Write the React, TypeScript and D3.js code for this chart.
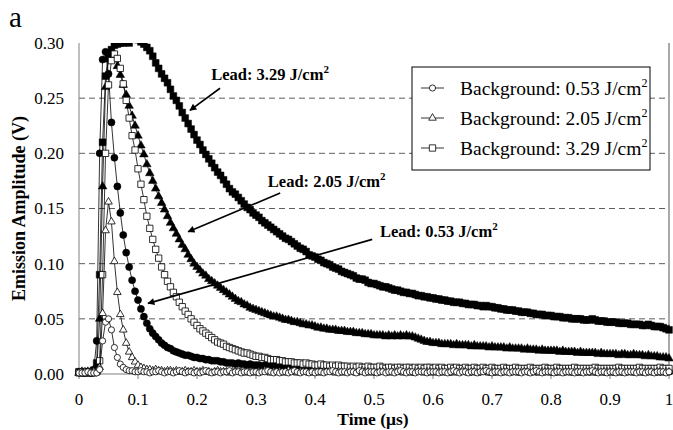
import React from "react";
import * as d3 from "d3";

// sampling grid of the scope trace, 0.005 µs per point
const timeUs = d3.range(201).map(i => +(i * 0.005).toFixed(3));

const lead329 = [
  0.002,0.001,0.002,0.002,0.001,0.003,0.010,0.090,0.210,0.270,0.289,0.294,0.298,0.299,0.300,0.300,0.301,0.300,0.304,0.306,
  0.303,0.301,0.299,0.296,0.293,0.288,0.282,0.277,0.272,0.268,0.264,0.258,0.252,0.248,0.243,0.237,0.232,0.227,0.222,0.217,
  0.212,0.208,0.203,0.199,0.195,0.191,0.187,0.183,0.180,0.176,0.172,0.168,0.165,0.163,0.160,0.157,0.154,0.151,0.149,0.146,
  0.144,0.142,0.139,0.137,0.135,0.133,0.131,0.129,0.127,0.125,0.123,0.122,0.120,0.118,0.116,0.114,0.113,0.111,0.108,0.107,
  0.106,0.104,0.103,0.101,0.100,0.099,0.097,0.096,0.095,0.093,0.092,0.091,0.090,0.089,0.087,0.086,0.086,0.085,0.083,0.082,
  0.082,0.081,0.080,0.079,0.079,0.078,0.077,0.076,0.076,0.075,0.074,0.074,0.073,0.073,0.072,0.071,0.071,0.070,0.070,0.069,
  0.069,0.068,0.068,0.067,0.067,0.066,0.066,0.065,0.065,0.065,0.064,0.064,0.063,0.063,0.063,0.062,0.062,0.061,0.062,0.061,
  0.061,0.060,0.060,0.059,0.059,0.058,0.058,0.058,0.057,0.057,0.056,0.056,0.056,0.055,0.055,0.054,0.054,0.054,0.053,0.053,
  0.053,0.052,0.052,0.052,0.051,0.051,0.051,0.050,0.050,0.050,0.050,0.049,0.049,0.049,0.050,0.049,0.048,0.048,0.048,0.047,
  0.047,0.047,0.047,0.046,0.046,0.046,0.046,0.045,0.045,0.045,0.045,0.044,0.044,0.045,0.044,0.043,0.043,0.043,0.042,0.041,0.040,
];

const lead205 = [
  0.001,0.002,0.001,0.002,0.002,0.002,0.004,0.050,0.170,0.260,0.285,0.290,0.287,0.279,0.271,0.262,0.253,0.243,0.234,0.225,
  0.216,0.207,0.199,0.190,0.182,0.175,0.168,0.161,0.155,0.149,0.143,0.137,0.132,0.127,0.122,0.117,0.113,0.108,0.104,0.100,
  0.097,0.094,0.091,0.089,0.086,0.084,0.082,0.080,0.078,0.076,0.074,0.072,0.070,0.068,0.066,0.065,0.063,0.062,0.060,0.059,
  0.058,0.057,0.056,0.055,0.054,0.053,0.052,0.052,0.051,0.050,0.049,0.049,0.048,0.047,0.047,0.046,0.045,0.045,0.044,0.044,
  0.043,0.042,0.042,0.041,0.041,0.040,0.040,0.040,0.039,0.039,0.039,0.038,0.038,0.038,0.037,0.037,0.037,0.036,0.036,0.036,
  0.035,0.035,0.035,0.035,0.034,0.035,0.034,0.035,0.034,0.035,0.034,0.035,0.034,0.034,0.033,0.032,0.031,0.030,0.029,0.029,
  0.028,0.028,0.028,0.027,0.027,0.027,0.027,0.026,0.027,0.026,0.026,0.026,0.026,0.025,0.026,0.025,0.025,0.025,0.025,0.024,
  0.025,0.024,0.024,0.024,0.024,0.023,0.024,0.023,0.023,0.023,0.023,0.022,0.023,0.022,0.022,0.022,0.021,0.022,0.021,0.021,
  0.021,0.021,0.021,0.020,0.021,0.020,0.020,0.020,0.020,0.019,0.020,0.019,0.019,0.019,0.019,0.019,0.018,0.019,0.018,0.018,
  0.018,0.018,0.018,0.017,0.018,0.018,0.017,0.017,0.018,0.017,0.017,0.017,0.016,0.017,0.016,0.016,0.016,0.015,0.015,0.015,0.014,
];

const lead053 = [
  0.002,0.002,0.001,0.002,0.001,0.004,0.030,0.200,0.285,0.292,0.272,0.228,0.196,0.170,0.146,0.126,0.110,0.097,0.085,0.075,
  0.067,0.059,0.052,0.046,0.041,0.037,0.034,0.031,0.028,0.026,0.024,0.023,0.021,0.020,0.019,0.018,0.017,0.017,0.016,0.015,
  0.015,0.014,0.014,0.013,0.013,0.012,0.012,0.012,0.011,0.011,0.010,0.010,0.010,0.009,0.010,0.009,0.009,0.008,0.009,0.008,
  0.008,0.008,0.007,0.008,0.007,0.007,0.007,0.006,0.007,0.006,0.006,0.006,0.006,0.005,0.006,0.005,0.005,0.005,0.006,0.005,
  0.005,0.005,0.004,0.005,0.004,0.005,0.004,0.004,0.005,0.004,0.004,0.004,0.003,0.004,0.004,0.003,0.004,0.004,0.003,0.004,
  0.003,0.004,0.003,0.003,0.004,0.003,0.003,0.002,0.003,0.004,0.003,0.003,0.003,0.002,0.003,0.003,0.004,0.003,0.002,0.003,
  0.003,0.003,0.002,0.003,0.003,0.003,0.002,0.003,0.003,0.002,0.003,0.004,0.003,0.002,0.003,0.003,0.002,0.003,0.003,0.002,
  0.003,0.002,0.003,0.003,0.002,0.003,0.002,0.003,0.003,0.002,0.002,0.003,0.003,0.002,0.003,0.002,0.003,0.002,0.002,0.003,
  0.002,0.003,0.002,0.003,0.002,0.002,0.003,0.002,0.003,0.002,0.002,0.003,0.002,0.002,0.003,0.002,0.002,0.003,0.002,0.002,
  0.003,0.002,0.002,0.003,0.002,0.002,0.002,0.003,0.002,0.002,0.003,0.002,0.002,0.002,0.003,0.002,0.002,0.002,0.003,0.002,0.002,
];

const bg329 = [
  0.001,0.002,0.001,0.001,0.002,0.001,0.002,0.012,0.090,0.200,0.262,0.284,0.290,0.286,0.277,0.263,0.248,0.232,0.216,0.203,
  0.186,0.172,0.158,0.143,0.132,0.122,0.113,0.105,0.097,0.090,0.084,0.079,0.074,0.070,0.065,0.061,0.057,0.054,0.050,0.047,
  0.044,0.041,0.039,0.037,0.035,0.033,0.031,0.029,0.028,0.027,0.025,0.024,0.023,0.022,0.021,0.020,0.019,0.019,0.018,0.017,
  0.016,0.016,0.015,0.015,0.014,0.013,0.013,0.013,0.012,0.012,0.011,0.011,0.011,0.010,0.010,0.010,0.009,0.010,0.009,0.009,
  0.008,0.008,0.009,0.008,0.008,0.007,0.008,0.007,0.008,0.007,0.007,0.007,0.006,0.007,0.006,0.007,0.006,0.006,0.007,0.006,
  0.006,0.006,0.007,0.006,0.005,0.006,0.006,0.005,0.006,0.006,0.005,0.006,0.006,0.005,0.006,0.005,0.006,0.005,0.006,0.006,
  0.005,0.006,0.005,0.006,0.005,0.005,0.006,0.005,0.006,0.005,0.005,0.006,0.005,0.005,0.006,0.005,0.005,0.006,0.005,0.005,
  0.006,0.005,0.005,0.005,0.006,0.005,0.005,0.005,0.006,0.005,0.005,0.005,0.005,0.006,0.005,0.005,0.005,0.005,0.006,0.005,
  0.005,0.005,0.006,0.005,0.005,0.005,0.005,0.005,0.006,0.005,0.005,0.005,0.005,0.005,0.005,0.006,0.005,0.005,0.005,0.005,
  0.005,0.005,0.005,0.006,0.005,0.005,0.005,0.005,0.005,0.005,0.006,0.005,0.005,0.005,0.005,0.005,0.005,0.006,0.005,0.005,0.005,
];

const bg205 = [
  0.001,0.001,0.002,0.001,0.001,0.002,0.002,0.006,0.055,0.130,0.156,0.138,0.102,0.074,0.054,0.040,0.028,0.020,0.015,0.011,
  0.008,0.006,0.005,0.004,0.004,0.003,0.004,0.003,0.003,0.002,0.003,0.003,0.002,0.003,0.002,0.002,0.003,0.002,0.002,0.003,
  0.002,0.002,0.003,0.002,0.002,0.001,0.002,0.003,0.002,0.002,0.002,0.001,0.002,0.002,0.003,0.002,0.001,0.002,0.002,0.002,
  0.001,0.002,0.002,0.003,0.002,0.001,0.002,0.002,0.002,0.001,0.002,0.003,0.002,0.002,0.001,0.002,0.002,0.002,0.001,0.002,
  0.002,0.002,0.001,0.002,0.002,0.003,0.002,0.001,0.002,0.002,0.001,0.002,0.002,0.002,0.001,0.002,0.003,0.002,0.002,0.001,
  0.002,0.001,0.002,0.002,0.002,0.001,0.002,0.002,0.003,0.002,0.001,0.002,0.002,0.001,0.002,0.002,0.002,0.001,0.002,0.002,
  0.001,0.002,0.002,0.002,0.001,0.002,0.002,0.001,0.002,0.002,0.003,0.002,0.001,0.002,0.002,0.001,0.002,0.002,0.002,0.001,
  0.002,0.002,0.001,0.002,0.002,0.002,0.001,0.002,0.002,0.001,0.002,0.002,0.002,0.001,0.002,0.002,0.001,0.002,0.002,0.002,
  0.001,0.002,0.002,0.001,0.002,0.002,0.002,0.001,0.002,0.002,0.001,0.002,0.002,0.002,0.001,0.002,0.002,0.001,0.002,0.002,
  0.002,0.001,0.002,0.002,0.001,0.002,0.002,0.002,0.001,0.002,0.002,0.001,0.002,0.002,0.002,0.001,0.002,0.002,0.001,0.002,0.002,
];

const bg053 = [
  0.001,0.001,0.001,0.002,0.001,0.001,0.001,0.004,0.030,0.047,0.050,0.040,0.024,0.015,0.009,0.006,0.004,0.003,0.003,0.002,
  0.002,0.003,0.002,0.002,0.001,0.002,0.002,0.003,0.002,0.001,0.002,0.002,0.001,0.002,0.003,0.002,0.001,0.002,0.002,0.001,
  0.002,0.001,0.002,0.003,0.002,0.001,0.002,0.002,0.001,0.002,0.002,0.003,0.001,0.002,0.002,0.001,0.002,0.002,0.001,0.002,
  0.002,0.001,0.002,0.002,0.003,0.002,0.001,0.002,0.001,0.002,0.002,0.001,0.002,0.003,0.002,0.001,0.002,0.002,0.001,0.002,
  0.001,0.002,0.002,0.001,0.002,0.002,0.003,0.002,0.001,0.002,0.002,0.001,0.002,0.002,0.001,0.003,0.002,0.001,0.002,0.002,
  0.002,0.001,0.002,0.002,0.001,0.002,0.002,0.001,0.002,0.003,0.002,0.001,0.002,0.002,0.001,0.002,0.002,0.002,0.001,0.002,
  0.002,0.002,0.001,0.002,0.002,0.001,0.002,0.003,0.002,0.001,0.002,0.002,0.001,0.002,0.002,0.001,0.002,0.002,0.003,0.002,
  0.001,0.002,0.002,0.001,0.002,0.002,0.001,0.002,0.002,0.002,0.001,0.002,0.002,0.001,0.002,0.003,0.002,0.001,0.002,0.002,
  0.002,0.001,0.002,0.002,0.001,0.002,0.002,0.002,0.001,0.002,0.002,0.001,0.002,0.002,0.003,0.002,0.001,0.002,0.002,0.001,
  0.002,0.002,0.001,0.002,0.002,0.001,0.002,0.002,0.002,0.001,0.002,0.002,0.001,0.002,0.002,0.001,0.002,0.002,0.002,0.001,0.002,
];

const xTicks = [0, 0.1, 0.2, 0.3, 0.4, 0.5, 0.6, 0.7, 0.8, 0.9, 1];
const xTickLabels = ["0", "0.1", "0.2", "0.3", "0.4", "0.5", "0.6", "0.7", "0.8", "0.9", "1"];
const yTicks = [0, 0.05, 0.1, 0.15, 0.2, 0.25, 0.3];
const gridLines = [0.05, 0.1, 0.15, 0.2, 0.25];

const legendLabels = ["Background: 0.53 J/cm", "Background: 2.05 J/cm", "Background: 3.29 J/cm"];

// lead traces drawn first, background traces on top
const series = [
  { values: lead329, shape: "square", filled: true },
  { values: lead205, shape: "triangle", filled: true },
  { values: lead053, shape: "circle", filled: true },
  { values: bg329, shape: "square", filled: false },
  { values: bg205, shape: "triangle", filled: false },
  { values: bg053, shape: "circle", filled: false },
];

// callouts in data units: label anchor, arrow start, arrow tip
const callouts = [
  { text: "Lead: 3.29 J/cm", at: [0.224, 0.2666], from: [0.239, 0.259], to: [0.188, 0.239] },
  { text: "Lead: 2.05 J/cm", at: [0.32, 0.1695], from: [0.341, 0.164], to: [0.185, 0.129] },
  { text: "Lead: 0.53 J/cm", at: [0.51, 0.124], from: [0.497, 0.122], to: [0.117, 0.064] },
];

const serif = "'Liberation Serif', 'Times New Roman', serif";

const symbolOf = (shape: string, filled: boolean) => {
  if (shape === "square") return d3.symbol(d3.symbolSquare, filled ? 46 : 40)();
  if (shape === "triangle") return d3.symbol(d3.symbolTriangle, filled ? 32 : 25)();
  return d3.symbol(d3.symbolCircle, filled ? 40 : 30)();
};

export default function App() {
  const x = d3.scaleLinear().domain([0, 1]).range([79, 669]);
  const y = d3.scaleLinear().domain([0, 0.3]).range([374, 43]);
  const line = d3.line<number>().x((_, i) => x(timeUs[i])).y(v => y(v));

  return (
    <svg width={673} height={430} style={{ position: "absolute", left: 0, top: 0, background: "#fff" }}
      fontFamily={serif}>
      <defs>
        <clipPath id="plot-clip">
          <rect x={70} y={y(0.3)} width={610} height={y(0) - y(0.3) + 6} />
        </clipPath>
        <marker id="arrow" viewBox="0 0 10 10" refX={9} refY={5} markerWidth={10} markerHeight={7}
          markerUnits="userSpaceOnUse" orient="auto">
          <path d="M0,0 L10,5 L0,10 z" fill="#000" />
        </marker>
      </defs>

      <text x={9} y={27} fontSize={29}>a</text>

      {gridLines.map(v => (
        <line key={v} x1={x(0)} x2={x(1)} y1={y(v)} y2={y(v)} stroke="#333" strokeWidth={0.8}
          strokeDasharray="6,4" />
      ))}

      <line x1={x(0)} x2={x(0)} y1={y(0.3)} y2={y(0)} stroke="#808080" />
      <line x1={x(1)} x2={x(1)} y1={y(0.3)} y2={y(0)} stroke="#555" />
      <line x1={x(0)} x2={x(1)} y1={y(0)} y2={y(0)} stroke="#808080" />
      {xTicks.map(t => (
        <line key={t} x1={x(t)} x2={x(t)} y1={y(0)} y2={y(0) + 5} stroke="#808080" />
      ))}

      {yTicks.map(v => (
        <text key={v} x={64} y={y(v)} dy="0.35em" textAnchor="end" fontSize={17}>{v.toFixed(2)}</text>
      ))}
      {xTicks.map((t, i) => (
        <text key={t} x={x(t)} y={405} textAnchor="middle" fontSize={17}>{xTickLabels[i]}</text>
      ))}

      <text transform={`translate(25,${(y(0) + y(0.3)) / 2}) rotate(-90)`} textAnchor="middle"
        fontSize={18} fontWeight="bold">Emission Amplitude (V)</text>
      <text x={373} y={425} textAnchor="middle" fontSize={17.5} fontWeight="bold">Time (μs)</text>

      <g clipPath="url(#plot-clip)">
        {series.map((s, k) => (
          <g key={k}>
            <path d={line(s.values) || ""} fill="none" stroke="#000" strokeWidth={0.8} />
            {s.values.map((v, i) => (
              <path key={i} transform={`translate(${x(timeUs[i])},${y(v)})`} d={symbolOf(s.shape, s.filled) || ""}
                fill={s.filled ? "#000" : "#fff"} stroke="#000" strokeWidth={s.filled ? 0.5 : 0.8} />
            ))}
          </g>
        ))}
      </g>

      {callouts.map(c => (
        <g key={c.text}>
          <line x1={x(c.from[0])} y1={y(c.from[1])} x2={x(c.to[0])} y2={y(c.to[1])} stroke="#000"
            strokeWidth={1.6} markerEnd="url(#arrow)" />
          <text x={x(c.at[0])} y={y(c.at[1])} fontSize={16.5} fontWeight="bold">
            {c.text}<tspan dy={-7} fontSize={11}>2</tspan>
          </text>
        </g>
      ))}

      <g>
        <rect x={412} y={67} width={238} height={103} fill="#fff" stroke="#000" />
        {legendLabels.map((label, i) => {
          const s = series[5 - i];
          const ly = 88 + i * 30;
          return (
            <g key={label}>
              <line x1={421} x2={444} y1={ly} y2={ly} stroke="#000" strokeWidth={0.8} />
              <path transform={`translate(432.5,${ly})`} d={symbolOf(s.shape, false) || ""} fill="#fff"
                stroke="#000" strokeWidth={0.8} />
              <text x={460} y={ly} dy="0.35em" fontSize={19.5}>
                {label}<tspan dy={-8} fontSize={12}>2</tspan>
              </text>
            </g>
          );
        })}
      </g>
    </svg>
  );
}
